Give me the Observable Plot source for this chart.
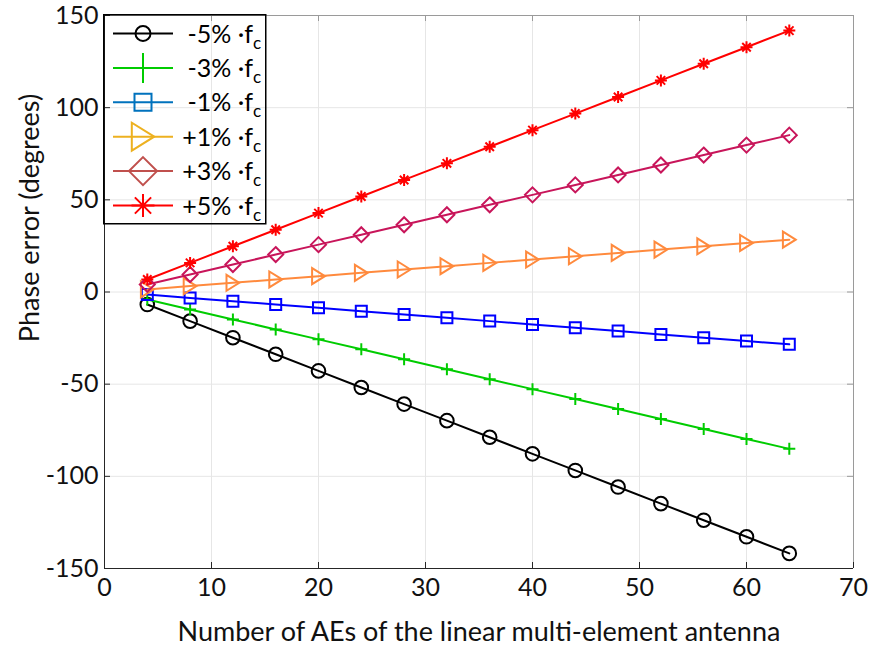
<!DOCTYPE html>
<html>
<head>
<meta charset="utf-8">
<script src="https://cdn.jsdelivr.net/npm/d3@7"></script>
<script src="https://cdn.jsdelivr.net/npm/@observablehq/plot@0.6"></script>
<style>
  body { margin: 0; background: #fff; font-family: Lato, "Open Sans", sans-serif; }
  #wrap { position: relative; width: 875px; height: 647px; overflow: hidden; }
  #legend { position: absolute; left: 103px; top: 14px; }
</style>
</head>
<body>
<div id="wrap"></div>
<script>
// ---- data ----
const elements = [4, 8, 12, 16, 20, 24, 28, 32, 36, 40, 44, 48, 52, 56, 60, 64];
const seriesLabels = ["-5%", "-3%", "-1%", "+1%", "+3%", "+5%"];
const minus5 = [-6.8, -15.8, -24.8, -33.8, -42.8, -51.8, -60.8, -69.8, -78.8, -87.8, -96.8, -105.8, -114.8, -123.8, -132.8, -141.8];
const minus3 = [-4.1, -9.5, -14.9, -20.3, -25.7, -31.1, -36.5, -41.9, -47.3, -52.7, -58.1, -63.5, -68.9, -74.3, -79.7, -85.1];
const minus1 = [-1.4, -3.2, -5.0, -6.8, -8.6, -10.4, -12.2, -14.0, -15.8, -17.6, -19.4, -21.2, -23.0, -24.8, -26.6, -28.4];
const plus1 = [1.4, 3.2, 5.0, 6.8, 8.6, 10.4, 12.2, 14.0, 15.8, 17.6, 19.4, 21.2, 23.0, 24.8, 26.6, 28.4];
const plus3 = [4.1, 9.5, 14.9, 20.3, 25.7, 31.1, 36.5, 41.9, 47.3, 52.7, 58.1, 63.5, 68.9, 74.3, 79.7, 85.1];
const plus5 = [6.8, 15.8, 24.8, 33.8, 42.8, 51.8, 60.8, 69.8, 78.8, 87.8, 96.8, 105.8, 114.8, 123.8, 132.8, 141.8];
const seriesValues = [minus5, minus3, minus1, plus1, plus3, plus5];
const xTicks = [0, 10, 20, 30, 40, 50, 60, 70];
const yTicks = [-150, -100, -50, 0, 50, 100, 150];
const xLabel = "Number of AEs of the linear multi-element antenna";
const yLabel = "Phase error (degrees)";

// ---- styles ----
const lineColors = ["#000000", "#00CC00", "#0000FF", "#FF8A3D", "#C8155A", "#FF0000"];
const legendColors = ["#000000", "#00CC00", "#0072BD", "#EDB120", "#C0504D", "#FF0000"];

const rad = (size) => Math.sqrt(size / Math.PI);
const symbols = {
  circle: { draw(c, s) { const r = rad(s); c.moveTo(r, 0); c.arc(0, 0, r, 0, 2 * Math.PI); } },
  plus: { draw(c, s) { const r = rad(s); c.moveTo(-r, 0); c.lineTo(r, 0); c.moveTo(0, -r); c.lineTo(0, r); } },
  square: { draw(c, s) { const r = rad(s); c.moveTo(-r, -r); c.lineTo(r, -r); c.lineTo(r, r); c.lineTo(-r, r); c.closePath(); } },
  triRight: { draw(c, s) { const r = rad(s); c.moveTo(r * 0.8, 0); c.lineTo(-r * 0.8, -r); c.lineTo(-r * 0.8, r); c.closePath(); } },
  diamond: { draw(c, s) { const r = rad(s); c.moveTo(0, -r); c.lineTo(r, 0); c.lineTo(0, r); c.lineTo(-r, 0); c.closePath(); } },
  asterisk: { draw(c, s) { const r = rad(s), q = r * Math.SQRT1_2;
    c.moveTo(-r, 0); c.lineTo(r, 0); c.moveTo(0, -r); c.lineTo(0, r);
    c.moveTo(-q, -q); c.lineTo(q, q); c.moveTo(-q, q); c.lineTo(q, -q); } }
};
const seriesSymbols = [symbols.circle, symbols.plus, symbols.square, symbols.triRight, symbols.diamond, symbols.asterisk];
const plotR = [6.8, 6, 5.5, 8, 7.5, 6];

const W = 875, H = 647, ML = 104, MR = 22, MT = 15, MB = 79;
const innerW = W - ML - MR, innerH = H - MT - MB;
const tickLen = 6;
const FONT = "Lato, 'Open Sans', sans-serif";

const seriesMarks = [];
seriesValues.forEach((vals, i) => {
  const rows = elements.map((n, j) => ({ n, v: vals[j] }));
  seriesMarks.push(Plot.line(rows, { x: "n", y: "v", stroke: lineColors[i], strokeWidth: 2 }));
  seriesMarks.push(Plot.dot(rows, { x: "n", y: "v", r: plotR[i], symbol: seriesSymbols[i], stroke: lineColors[i], strokeWidth: 2, fill: "none" }));
});

const chart = Plot.plot({
  width: W, height: H,
  marginLeft: ML, marginRight: MR, marginTop: MT, marginBottom: MB,
  x: { domain: [0, 70] },
  y: { domain: [-150, 150] },
  style: { fontFamily: FONT, fontSize: "25px", background: "#fff", color: "#111" },
  marks: [
    Plot.gridX(xTicks, { stroke: "#e6e6e6", strokeOpacity: 1 }),
    Plot.gridY(yTicks, { stroke: "#e6e6e6", strokeOpacity: 1 }),
    Plot.ruleX([70], { stroke: "#9a9a9a" }),
    Plot.ruleY([150], { stroke: "#9a9a9a" }),
    Plot.tickX(xTicks, { x: d => d, insetTop: innerH - tickLen, stroke: "#262626" }),
    Plot.tickX(xTicks, { x: d => d, insetBottom: innerH - tickLen, stroke: "#9a9a9a" }),
    Plot.tickY(yTicks, { y: d => d, insetRight: innerW - tickLen, stroke: "#262626" }),
    Plot.tickY(yTicks, { y: d => d, insetLeft: innerW - tickLen, stroke: "#9a9a9a" }),
    Plot.ruleX([0], { stroke: "#262626" }),
    Plot.ruleY([-150], { stroke: "#262626" }),
    ...seriesMarks,
    Plot.axisX(xTicks, { tickSize: 0, tickPadding: 10, label: null, fontSize: 25, fill: "#111", tickFormat: d => String(d) }),
    Plot.axisY(yTicks, { tickSize: 0, tickPadding: 6, label: null, fontSize: 25, fill: "#111", tickFormat: d => String(d) }),
    Plot.text([xLabel], { text: d => d, frameAnchor: "bottom", dy: 64, fontSize: 27, fill: "#111", lineAnchor: "middle" })
  ]
});
document.getElementById("wrap").appendChild(chart);

// y-axis title (rotated), added to the Plot SVG
d3.select(chart).append("text")
  .attr("transform", "translate(28,218) rotate(-90)")
  .attr("text-anchor", "middle").attr("dominant-baseline", "central")
  .attr("font-family", FONT).attr("font-size", 27).attr("fill", "#111")
  .text(yLabel);

// ---- legend (overlay, transparent so grid shows through) ----
const LW = 162, LH = 209;
const legendR = [7.5, 15, 8.5, 14, 14, 11.5];
const leg = d3.select("#wrap").append("svg")
  .attr("id", "legend").attr("width", LW + 2).attr("height", LH + 2)
  .style("font-family", FONT);
leg.append("rect").attr("x", 0.75).attr("y", 0.75).attr("width", LW).attr("height", LH)
  .attr("fill", "none").attr("stroke", "#000").attr("stroke-width", 1.5);
seriesLabels.forEach((lab, i) => {
  const cy = 19.5 + i * 34.4;
  const g = leg.append("g").attr("transform", `translate(0,${cy})`);
  g.append("line").attr("x1", 10).attr("x2", 70).attr("y1", 0).attr("y2", 0)
    .attr("stroke", legendColors[i]).attr("stroke-width", 2);
  const sz = legendR[i] * legendR[i] * Math.PI;
  g.append("path").attr("transform", "translate(40,0)")
    .attr("d", d3.symbol(seriesSymbols[i], sz)())
    .attr("fill", "none").attr("stroke", legendColors[i]).attr("stroke-width", 2);
  g.append("text").attr("x", 150).attr("y", 9).attr("text-anchor", "end")
    .attr("font-size", 25).attr("fill", "#000").text(lab + " \u00B7f");
  g.append("text").attr("x", 150).attr("y", 15).attr("font-size", 17).attr("fill", "#000").text("c");
});
</script>
</body>
</html>
